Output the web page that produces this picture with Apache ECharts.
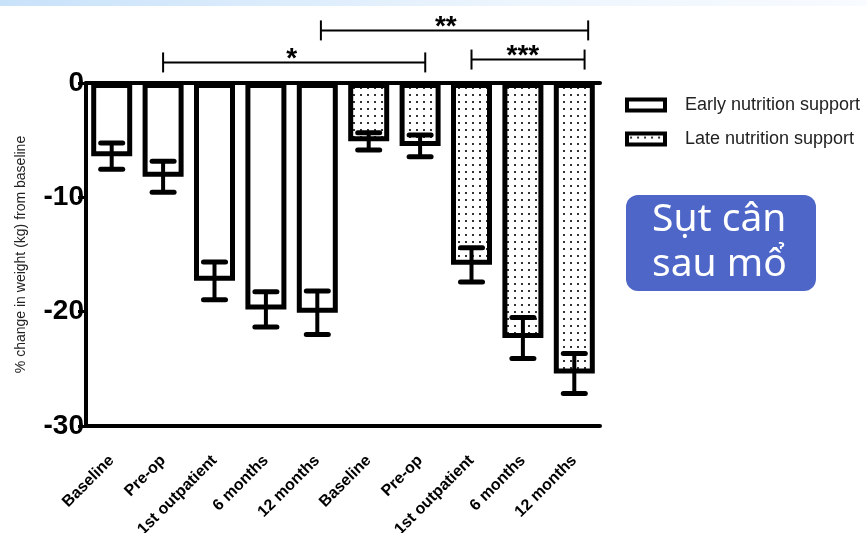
<!DOCTYPE html>
<html>
<head>
<meta charset="utf-8">
<script src="https://cdn.jsdelivr.net/npm/echarts@6/dist/echarts.min.js"></script>
<style>
  html, body { margin: 0; padding: 0; background: #fff; }
  #chart { width: 867px; height: 533px; }
</style>
</head>
<body>
<div id="chart"></div>
<script>
    // categories (early group then late group)
    var categories = ['Baseline', 'Pre-op', '1st outpatient', '6 months', '12 months',
                      'Baseline', 'Pre-op', '1st outpatient', '6 months', '12 months'];
    // mean % change and error (SEM)
    var earlyMean = [-6.4, -8.2, -17.3, -19.8, -20.1];
    var earlyErr  = [1.15, 1.35, 1.65, 1.55, 1.9];
    var lateMean  = [-5.1, -5.5, -15.9, -22.3, -25.4];
    var lateErr   = [0.75, 0.95, 1.5, 1.8, 1.75];
    var yTicks = [0, -10, -20, -30];
    // significance brackets: [from category, to category, height above 0]
    var bracketSpan = [[1, 6.1, 1.8], [4.07, 9.27, 4.6], [7, 9.2, 2.05]];
    var bracketText = ['*', '**', '***'];

    // dotted fill for late bars
    var dot = document.createElement('canvas');
    dot.width = 7; dot.height = 7;
    var dctx = dot.getContext('2d');
    dctx.fillStyle = '#fff';
    dctx.fillRect(0, 0, 7, 7);
    dctx.fillStyle = '#333';
    dctx.fillRect(3, 3, 2, 2);

    var earlyData = [], lateData = [], errData = [];
    for (var i = 0; i < 5; i++) {
        earlyData.push(earlyMean[i]);
        lateData.push('-');
        errData.push([i, earlyMean[i], earlyErr[i]]);
    }
    for (var j = 0; j < 5; j++) {
        earlyData.push('-');
        lateData.push(lateMean[j]);
        errData.push([j + 5, lateMean[j], lateErr[j]]);
    }

    function xAt(api, pos, y) {
        var k = Math.floor(pos);
        var p = api.coord([k, y]);
        var bw = api.size([1, 0])[0];
        return [p[0] + (pos - k) * bw, p[1]];
    }

    var myChart = echarts.init(document.getElementById('chart'));
    var option = {
        backgroundColor: '#fff',
        animation: false,
        textStyle: { fontFamily: 'Liberation Sans, Arial, sans-serif' },
        grid: { left: 86, top: 83, right: 267, bottom: 107, containLabel: false, outerBoundsMode: 'none' },
        legend: {
            left: 620, top: 91, orient: 'vertical',
            itemWidth: 38, itemHeight: 11, itemGap: 16,
            icon: 'rect',
            itemStyle: { borderColor: '#000', borderWidth: 4 },
            textStyle: { fontSize: 18, color: '#222', padding: [0, 0, 0, 15] },
            data: ['Early nutrition support', 'Late nutrition support']
        },
        xAxis: [{
            type: 'category',
            data: categories,
            position: 'bottom',
            axisLine: { onZero: false, lineStyle: { color: '#000', width: 4 } },
            axisTick: { alignWithLabel: true, length: 10, lineStyle: { color: '#000', width: 3 } },
            axisLabel: { interval: 0, rotate: 45, margin: 32, fontSize: 16, fontWeight: 'bold', color: '#000' }
        }, {
            type: 'category',
            data: categories,
            position: 'top',
            axisLine: { onZero: false, lineStyle: { color: '#000', width: 4 } },
            axisTick: { show: false },
            axisLabel: { show: false }
        }],
        yAxis: {
            type: 'value',
            min: yTicks[yTicks.length - 1], max: yTicks[0], interval: 10,
            name: '% change in weight (kg) from baseline',
            nameLocation: 'middle', nameGap: 58,
            nameTextStyle: { fontSize: 14, color: '#222' },
            axisLine: { show: true, lineStyle: { color: '#000', width: 4 } },
            axisTick: { show: true, length: 8, lineStyle: { color: '#000', width: 3 } },
            axisLabel: { fontSize: 28, fontWeight: 'bold', color: '#000', margin: 2 },
            splitLine: { show: false }
        },
        series: [
            {
                name: 'Early nutrition support',
                type: 'bar',
                barWidth: 41,
                barGap: '-100%',
                itemStyle: { color: '#fff', borderColor: '#000', borderWidth: 5 },
                data: earlyData
            },
            {
                name: 'Late nutrition support',
                type: 'bar',
                barWidth: 41,
                barGap: '-100%',
                itemStyle: { color: { image: dot, repeat: 'repeat' }, borderColor: '#000', borderWidth: 5 },
                data: lateData
            },
            {
                type: 'custom',
                z: 5,
                encode: { x: 0, y: 1 },
                data: errData,
                renderItem: function (params, api) {
                    var x = api.value(0), m = api.value(1), e = api.value(2);
                    var top = api.coord([x, m + e]);
                    var bot = api.coord([x, m - e]);
                    var hw = 11;
                    return {
                        type: 'group',
                        children: [
                            { type: 'line', shape: { x1: top[0], y1: top[1], x2: bot[0], y2: bot[1] },
                              style: { stroke: '#000', lineWidth: 4 } },
                            { type: 'line', shape: { x1: top[0] - hw, y1: top[1], x2: top[0] + hw, y2: top[1] },
                              style: { stroke: '#000', lineWidth: 5, lineCap: 'round' } },
                            { type: 'line', shape: { x1: bot[0] - hw, y1: bot[1], x2: bot[0] + hw, y2: bot[1] },
                              style: { stroke: '#000', lineWidth: 5, lineCap: 'round' } }
                        ]
                    };
                }
            },
            {
                type: 'custom',
                clip: false,
                z: 5,
                encode: { x: 0, y: 2 },
                data: bracketSpan,
                renderItem: function (params, api) {
                    var from = api.value(0), to = api.value(1), h = api.value(2);
                    var a = xAt(api, from, h), b = xAt(api, to, h);
                    var ca = api.coord([Math.round(from), h]), cb = api.coord([Math.round(to), h]);
                    var tick = 10;
                    return {
                        type: 'group',
                        children: [
                            { type: 'line', shape: { x1: a[0], y1: a[1], x2: b[0], y2: b[1] },
                              style: { stroke: '#000', lineWidth: 2 } },
                            { type: 'line', shape: { x1: a[0], y1: a[1] - tick, x2: a[0], y2: a[1] + tick },
                              style: { stroke: '#000', lineWidth: 2 } },
                            { type: 'line', shape: { x1: b[0], y1: b[1] - tick, x2: b[0], y2: b[1] + tick },
                              style: { stroke: '#000', lineWidth: 2 } },
                            { type: 'text', x: (ca[0] + cb[0]) / 2, y: a[1] + 11,
                              style: { text: bracketText[params.dataIndex], font: 'bold 28px Liberation Sans, Arial',
                                       fill: '#000', align: 'center', verticalAlign: 'bottom' } }
                        ]
                    };
                }
            }
        ],
        graphic: [
            {
                type: 'rect', left: 0, top: 0, z: 10,
                shape: { width: 867, height: 6 },
                style: { fill: new echarts.graphic.LinearGradient(0, 0, 1, 0, [
                    { offset: 0, color: '#c8e2fa' }, { offset: 0.6, color: '#edf5fd' }, { offset: 1, color: '#f8fbff' }
                ]) }
            },
            {
                type: 'group', left: 626, top: 195, z: 10,
                children: [
                    { type: 'rect', shape: { x: 0, y: 0, width: 190, height: 96, r: 12 },
                      style: { fill: '#4e66c8' } },
                    { type: 'text', x: 26, y: 2,
                      style: { text: 'Sụt cân\nsau mổ', font: '39px Noto Sans', lineHeight: 45, fill: '#fff' } }
                ]
            }
        ]
    };
    myChart.setOption(option);
</script>
</body>
</html>
